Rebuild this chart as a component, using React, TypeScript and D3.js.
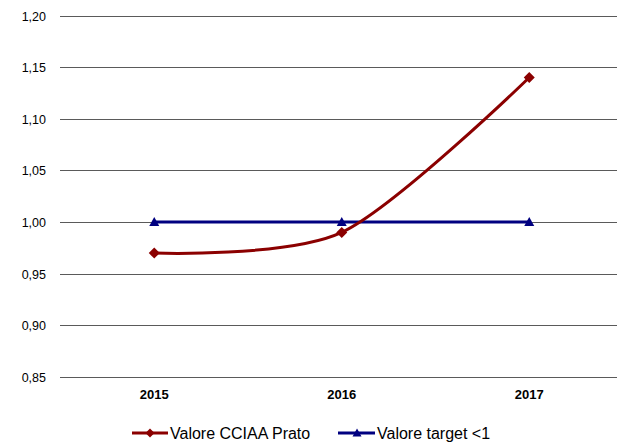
import React from "react";
import * as d3 from "d3";

const years = ["2015", "2016", "2017"];
const valoreCCIAA = [0.97, 0.99, 1.14];
const valoreTarget = [1.0, 1.0, 1.0];
const yTicks = [0.85, 0.9, 0.95, 1.0, 1.05, 1.1, 1.15, 1.2];
const seriesNames = ["Valore CCIAA Prato", "Valore target <1"];

const W = 617;
const H = 444;
const RED = "#8B0000";
const BLUE = "#000080";

export default function App() {
  const x = d3.scaleBand<string>().domain(years).range([60.5, 623]);
  const y = d3.scaleLinear().domain([0.85, 1.2]).range([377, 15.5]);
  const cx = (d: string) => (x(d) ?? 0) + x.bandwidth() / 2;

  const redLine = d3
    .line<number>()
    .x((_, i) => cx(years[i]))
    .y((d) => y(d))
    .curve(d3.curveCardinal.tension(0.15));
  const blueLine = d3
    .line<number>()
    .x((_, i) => cx(years[i]))
    .y((d) => y(d));

  const fmt = (v: number) => v.toFixed(2).replace(".", ",");
  const diamond = (px: number, py: number, r: number) =>
    `M${px},${py - r}L${px + r},${py}L${px},${py + r}L${px - r},${py}Z`;
  const triangle = (px: number, py: number, r: number) =>
    `M${px},${py - r}L${px + r},${py + r * 0.8}L${px - r},${py + r * 0.8}Z`;

  return (
    <svg
      width={W}
      height={H}
      style={{ position: "absolute", left: 0, top: 0, fontFamily: "Liberation Sans, Arial, sans-serif" }}
    >
      <rect width={W} height={H} fill="#fff" />
      {yTicks.map((t) => (
        <g key={t}>
          <line x1={60} x2={W} y1={Math.round(y(t)) + 0.5} y2={Math.round(y(t)) + 0.5} stroke="#5a5a5a" strokeWidth={1} />
          <text x={46} y={y(t) + 5} textAnchor="end" fontSize={12.5} fill="#000">
            {fmt(t)}
          </text>
        </g>
      ))}
      {years.map((yr) => (
        <text key={yr} x={cx(yr)} y={399} textAnchor="middle" fontSize={13} fontWeight="bold" fill="#000">
          {yr}
        </text>
      ))}
      <path d={blueLine(valoreTarget) ?? ""} fill="none" stroke={BLUE} strokeWidth={3} />
      <path d={redLine(valoreCCIAA) ?? ""} fill="none" stroke={RED} strokeWidth={3} />
      {valoreTarget.map((v, i) => (
        <path key={"t" + i} d={triangle(cx(years[i]), y(v), 5)} fill={BLUE} />
      ))}
      {valoreCCIAA.map((v, i) => (
        <path key={"c" + i} d={diamond(cx(years[i]), y(v), 5.5)} fill={RED} />
      ))}
      <g>
        <line x1={132} x2={168} y1={433} y2={433} stroke={RED} strokeWidth={3} />
        <path d={diamond(150, 433, 4.5)} fill={RED} />
        <text x={170} y={439} fontSize={16} fill="#000">
          {seriesNames[0]}
        </text>
        <line x1={338} x2={375} y1={433} y2={433} stroke={BLUE} strokeWidth={3} />
        <path d={triangle(357, 433, 4.5)} fill={BLUE} />
        <text x={377} y={439} fontSize={16} fill="#000">
          {seriesNames[1]}
        </text>
      </g>
    </svg>
  );
}
